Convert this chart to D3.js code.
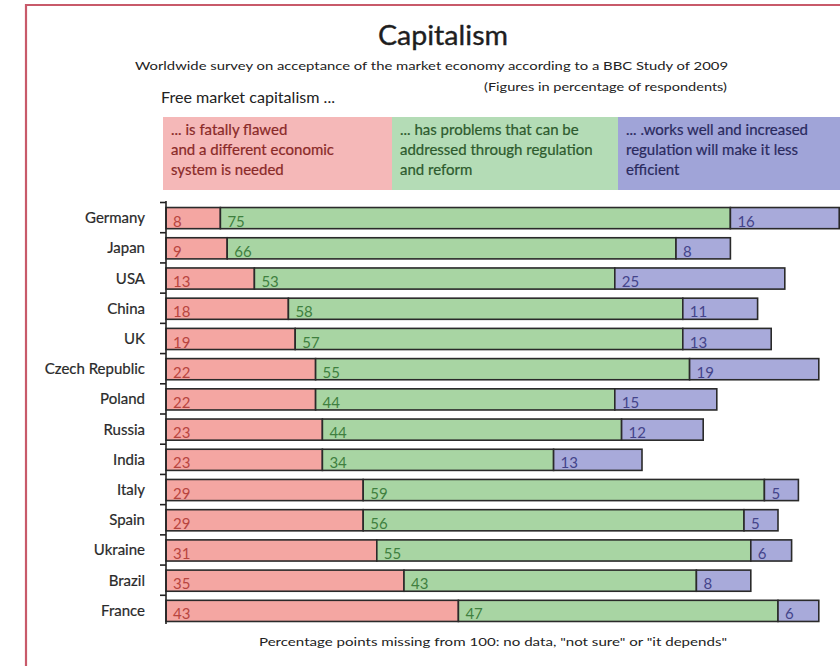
<!DOCTYPE html>
<html>
<head>
<meta charset="utf-8">
<script src="https://cdn.jsdelivr.net/npm/d3@7"></script>
<style>
  html, body { margin: 0; padding: 0; background: #fff; }
  svg { display: block; font-family: Lato, "Open Sans", sans-serif; }
</style>
</head>
<body>
<svg id="chart" width="840" height="666"></svg>
<script>
const countries = ["Germany","Japan","USA","China","UK","Czech Republic","Poland","Russia","India","Italy","Spain","Ukraine","Brazil","France"];
const flawed     = [8, 9, 13, 18, 19, 22, 22, 23, 23, 29, 29, 31, 35, 43];
const problems   = [75, 66, 53, 58, 57, 55, 44, 44, 34, 59, 56, 55, 43, 47];
const worksWell  = [16, 8, 25, 11, 13, 19, 15, 12, 13, 5, 5, 6, 8, 6];
const seriesKeys = ["flawed", "problems", "worksWell"];
const legendLines = [
  ["... is fatally flawed", "and a different economic", "system is needed"],
  ["... has problems that can be", "addressed through regulation", "and reform"],
  ["... .works well and increased", "regulation will make it less", "efficient"]
];
const titleText = "Capitalism";
const subtitleText = "Worldwide survey on acceptance of the market economy according to a BBC Study of 2009";
const noteText = "(Figures in percentage of respondents)";
const leadText = "Free market capitalism ...";
const footText = "Percentage points missing from 100: no data, \"not sure\" or \"it depends\"";

const barFill   = ["#f4a6a2", "#a8d5a3", "#a8aada"];
const legFill   = ["#f5b8b8", "#b4dcb6", "#a0a4d8"];
const numColor  = ["#b8453f", "#3f803f", "#44448a"];
const legColor  = ["#8a2a28", "#2d5a2d", "#2a2a5e"];

const svg = d3.select("#chart");

// frame
svg.append("path")
  .attr("d", "M26,666 L26,5 L840,5")
  .attr("fill", "none").attr("stroke", "#c85a6a").attr("stroke-width", 2.2);

// titles
svg.append("text").attr("x", 443).attr("y", 45).attr("text-anchor", "middle")
  .attr("font-size", 26).attr("font-weight", 400).attr("fill", "#1e1e1e")
  .attr("stroke", "#1e1e1e").attr("stroke-width", 0.35)
  .attr("textLength", 130).attr("lengthAdjust", "spacingAndGlyphs").text(titleText);
svg.append("text").attr("x", 135).attr("y", 70)
  .attr("font-size", 11.5).attr("fill", "#222")
  .attr("textLength", 593).attr("lengthAdjust", "spacingAndGlyphs").text(subtitleText);
svg.append("text").attr("x", 727).attr("y", 91).attr("text-anchor", "end")
  .attr("font-size", 11.5).attr("fill", "#222")
  .attr("textLength", 243).attr("lengthAdjust", "spacingAndGlyphs").text(noteText);
svg.append("text").attr("x", 161).attr("y", 103)
  .attr("font-size", 15).attr("fill", "#222")
  .attr("textLength", 174).attr("lengthAdjust", "spacingAndGlyphs").text(leadText);

// scales
const x = d3.scaleLinear().domain([0, 100]).range([166, 846]);
const y = d3.scaleBand().domain(countries).range([203, 626]).paddingInner(0.3).paddingOuter(0.15);

// legend
const legX = d3.scaleOrdinal().domain(seriesKeys).range([163, 392, 618]);
const legW = [229, 226, 222];
const legendG = svg.append("g");
seriesKeys.forEach((k, i) => {
  legendG.append("rect").attr("x", legX(k)).attr("y", 117).attr("width", legW[i]).attr("height", 73)
    .attr("fill", legFill[i]);
  legendLines[i].forEach((line, j) => {
    legendG.append("text").attr("x", legX(k) + 8).attr("y", 135 + j * 20)
      .attr("font-size", 15).attr("fill", legColor[i])
      .attr("stroke", legColor[i]).attr("stroke-width", 0.2).text(line);
  });
});

// stacked data
const rows = countries.map((c, i) => ({country: c, flawed: flawed[i], problems: problems[i], worksWell: worksWell[i]}));
const stack = d3.stack().keys(seriesKeys)(rows);

const barsG = svg.append("g");
stack.forEach((layer, li) => {
  const g = barsG.append("g");
  g.selectAll("rect").data(layer).join("rect")
    .attr("x", d => x(d[0]))
    .attr("y", d => y(d.data.country))
    .attr("width", d => x(d[1]) - x(d[0]))
    .attr("height", y.bandwidth())
    .attr("fill", barFill[li])
    .attr("stroke", "#2a2a2a").attr("stroke-width", 1.6);
  g.selectAll("text").data(layer).join("text")
    .attr("x", d => x(d[0]) + 7)
    .attr("y", d => y(d.data.country) + y.bandwidth() - 2)
    .attr("font-size", 15).attr("fill", numColor[li])
    .text(d => d[1] - d[0]);
});

// axis with country labels
const axisG = svg.append("g");
axisG.append("line").attr("x1", 166).attr("x2", 166).attr("y1", 201).attr("y2", 624)
  .attr("stroke", "#222").attr("stroke-width", 1.6);
const step = y.step();
axisG.selectAll("line.tick").data(countries).join("line").attr("class", "tick")
  .attr("x1", 160).attr("x2", 166)
  .attr("y1", d => y(d) - step * 0.15 - 0.5)
  .attr("y2", d => y(d) - step * 0.15 - 0.5)
  .attr("stroke", "#222").attr("stroke-width", 1.6);
axisG.selectAll("text").data(countries).join("text")
  .attr("x", 145).attr("y", d => y(d) + y.bandwidth() / 2 + 5)
  .attr("text-anchor", "end").attr("font-size", 15).attr("fill", "#2a2a2a")
  .attr("stroke", "#2a2a2a").attr("stroke-width", 0.2)
  .text(d => d);

// footer
svg.append("text").attr("x", 259).attr("y", 646)
  .attr("font-size", 12).attr("fill", "#222")
  .attr("textLength", 468).attr("lengthAdjust", "spacingAndGlyphs").text(footText);
</script>
</body>
</html>
